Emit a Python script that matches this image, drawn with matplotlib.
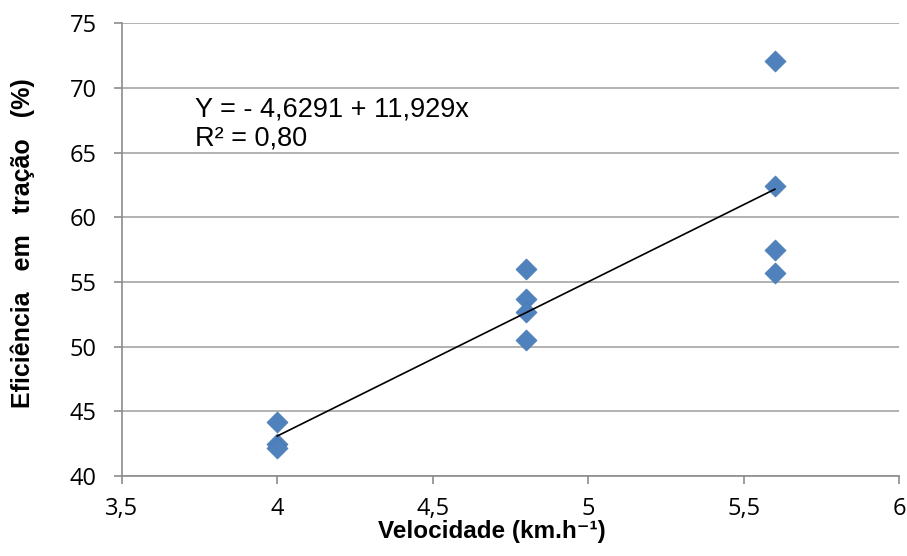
import numpy as np
import matplotlib.pyplot as plt

# dados
velocidade = [4.0, 4.0, 4.0, 4.8, 4.8, 4.8, 4.8, 5.6, 5.6, 5.6, 5.6]
eficiencia = [44.2, 42.5, 42.2, 56.0, 53.7, 52.7, 50.5, 72.1, 62.4, 57.5, 55.7]

intercepto = -4.6291
inclinacao = 11.929
r2 = 0.80

xticks = [3.5, 4, 4.5, 5, 5.5, 6]
xlabels = ["3,5", "4", "4,5", "5", "5,5", "6"]
yticks = [40, 45, 50, 55, 60, 65, 70, 75]

fig = plt.figure(figsize=(9.07, 5.56), dpi=100)
ax = fig.add_axes([0.1342, 0.1439, 0.8573, 0.8142])

ax.grid(axis="y", color="#a6a6a6", linewidth=1.2)
ax.set_axisbelow(True)

ax.scatter(velocidade, eficiencia, marker="D", s=115, color="#4f81bd",
           edgecolors="#4a7ab5", linewidths=0.5, zorder=3)

xs = np.array([min(velocidade), max(velocidade)])
ax.plot(xs, intercepto + inclinacao * xs, color="black", linewidth=1.2, zorder=4)

ax.set_xlim(3.5, 6)
ax.set_ylim(40, 75)
ax.set_xticks(xticks)
ax.set_xticklabels(xlabels)
ax.set_yticks(yticks)

for s in ["top", "right"]:
    ax.spines[s].set_visible(False)
for s in ["left", "bottom"]:
    ax.spines[s].set_color("#8c8c8c")
    ax.spines[s].set_linewidth(1.2)
ax.tick_params(colors="#8c8c8c", length=6, width=1.2, labelcolor="black",
               labelsize=17, pad=12)
ax.tick_params(axis="x", pad=9)
for lab in ax.get_xticklabels() + ax.get_yticklabels():
    lab.set_fontfamily("Open Sans")

ax.set_xlabel("Velocidade (km.h⁻¹)", fontsize=17.5, fontweight="bold",
              family=["Liberation Sans", "DejaVu Sans"], va="baseline")
ax.xaxis.set_label_coords(0.476, -0.1370)
ax.set_ylabel("Eficiência   em   tração   (%)", fontsize=18, fontweight="bold",
              fontfamily="Liberation Sans", va="center", ha="center")
ax.yaxis.set_label_coords(-0.127, 0.5147)

eq = "Y = - 4,6291 + 11,929x"
ax.text(3.7357, 67.82, eq, fontsize=19.5, fontfamily="Liberation Sans",
        va="baseline")
ax.text(3.7357, 65.58, "R² = " + f"{r2:.2f}".replace(".", ","), fontsize=19.5,
        fontfamily="Liberation Sans", va="baseline")

plt.savefig("out.png", dpi=100)
